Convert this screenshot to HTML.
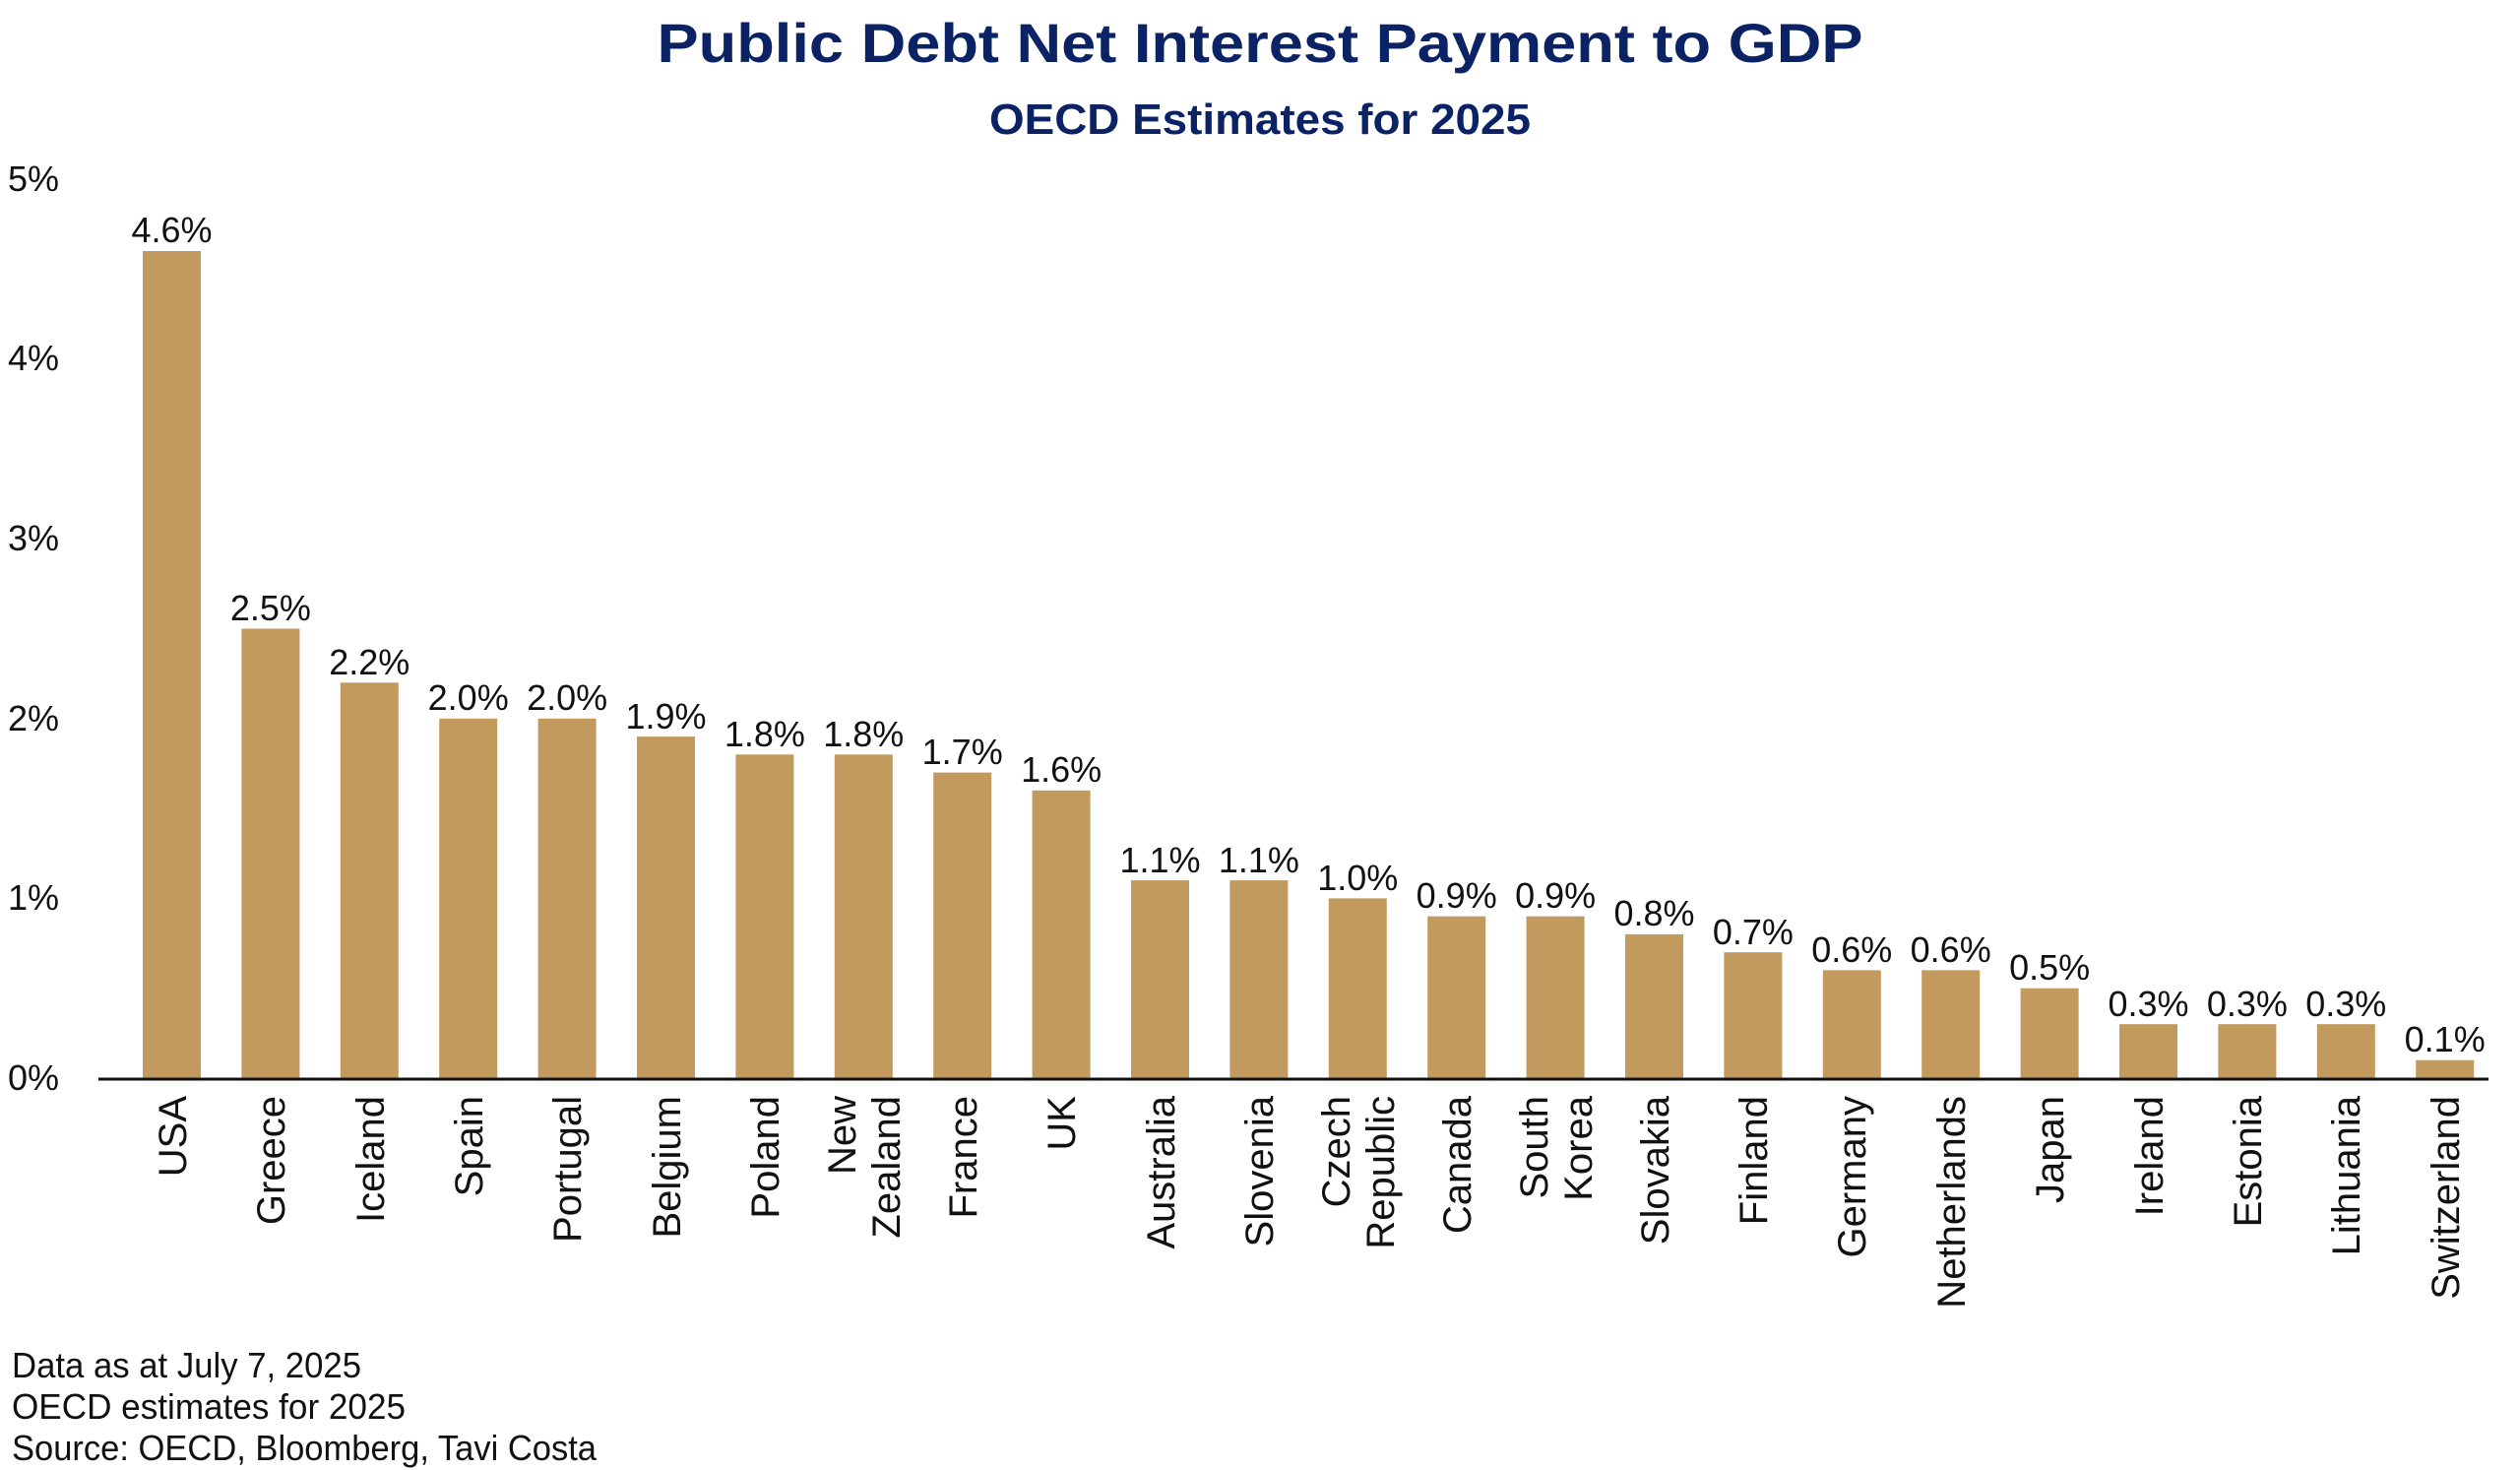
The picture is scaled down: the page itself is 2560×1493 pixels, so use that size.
<!DOCTYPE html>
<html><head><meta charset="utf-8"><style>
html,body{margin:0;padding:0;background:#fff;}
svg{display:block;}
</style></head><body>
<svg width="2560" height="1493" viewBox="0 0 2560 1493" xmlns="http://www.w3.org/2000/svg" font-family="'Liberation Sans', sans-serif">
<rect width="2560" height="1493" fill="#fff"/>
<text x="1280" y="63" text-anchor="middle" font-size="56" font-weight="bold" fill="#0b2265" textLength="1225" lengthAdjust="spacingAndGlyphs">Public Debt Net Interest Payment to GDP</text>
<text x="1280" y="136" text-anchor="middle" font-size="44" font-weight="bold" fill="#0b2265" textLength="550" lengthAdjust="spacingAndGlyphs">OECD Estimates for 2025</text>
<g font-size="36" fill="#111">
<text x="8" y="194">5%</text>
<text x="8" y="376">4%</text>
<text x="8" y="559">3%</text>
<text x="8" y="742">2%</text>
<text x="8" y="924">1%</text>
<text x="8" y="1107">0%</text>
</g>
<g fill="#c29a5e">
<rect x="145" y="255" width="59" height="840"/>
<rect x="245.4" y="638.5" width="59" height="456.5"/>
<rect x="345.8" y="693.3" width="59" height="401.7"/>
<rect x="446.2" y="729.8" width="59" height="365.2"/>
<rect x="546.6" y="729.8" width="59" height="365.2"/>
<rect x="647" y="748.1" width="59" height="346.9"/>
<rect x="747.4" y="766.3" width="59" height="328.7"/>
<rect x="847.8" y="766.3" width="59" height="328.7"/>
<rect x="948.2" y="784.6" width="59" height="310.4"/>
<rect x="1048.6" y="802.8" width="59" height="292.2"/>
<rect x="1149" y="894.1" width="59" height="200.9"/>
<rect x="1249.4" y="894.1" width="59" height="200.9"/>
<rect x="1349.8" y="912.4" width="59" height="182.6"/>
<rect x="1450.2" y="930.7" width="59" height="164.3"/>
<rect x="1550.6" y="930.7" width="59" height="164.3"/>
<rect x="1651" y="948.9" width="59" height="146.1"/>
<rect x="1751.4" y="967.2" width="59" height="127.8"/>
<rect x="1851.8" y="985.4" width="59" height="109.6"/>
<rect x="1952.2" y="985.4" width="59" height="109.6"/>
<rect x="2052.6" y="1003.7" width="59" height="91.3"/>
<rect x="2153" y="1040.2" width="59" height="54.8"/>
<rect x="2253.4" y="1040.2" width="59" height="54.8"/>
<rect x="2353.8" y="1040.2" width="59" height="54.8"/>
<rect x="2454.2" y="1076.7" width="59" height="18.3"/>
</g>
<line x1="100" y1="1096" x2="2528" y2="1096" stroke="#111" stroke-width="3"/>
<g font-size="36" fill="#111" text-anchor="middle">
<text x="174.5" y="246">4.6%</text>
<text x="274.9" y="630">2.5%</text>
<text x="375.3" y="685">2.2%</text>
<text x="475.7" y="721">2.0%</text>
<text x="576.1" y="721">2.0%</text>
<text x="676.5" y="740">1.9%</text>
<text x="776.9" y="758">1.8%</text>
<text x="877.3" y="758">1.8%</text>
<text x="977.7" y="776">1.7%</text>
<text x="1078.1" y="794">1.6%</text>
<text x="1178.5" y="886">1.1%</text>
<text x="1278.9" y="886">1.1%</text>
<text x="1379.3" y="904">1.0%</text>
<text x="1479.7" y="922">0.9%</text>
<text x="1580.1" y="922">0.9%</text>
<text x="1680.5" y="940">0.8%</text>
<text x="1780.9" y="959">0.7%</text>
<text x="1881.3" y="977">0.6%</text>
<text x="1981.7" y="977">0.6%</text>
<text x="2082.1" y="995">0.5%</text>
<text x="2182.5" y="1032">0.3%</text>
<text x="2282.9" y="1032">0.3%</text>
<text x="2383.3" y="1032">0.3%</text>
<text x="2483.7" y="1068">0.1%</text>
</g>
<g font-size="40" fill="#111" text-anchor="end">
<text transform="translate(189,1113) rotate(-90)">USA</text>
<text transform="translate(289,1113) rotate(-90)">Greece</text>
<text transform="translate(390,1113) rotate(-90)">Iceland</text>
<text transform="translate(490,1113) rotate(-90)">Spain</text>
<text transform="translate(590,1113) rotate(-90)">Portugal</text>
<text transform="translate(691,1113) rotate(-90)">Belgium</text>
<text transform="translate(791,1113) rotate(-90)">Poland</text>
<text transform="translate(869,1113) rotate(-90)">New</text>
<text transform="translate(914,1113) rotate(-90)">Zealand</text>
<text transform="translate(992,1113) rotate(-90)">France</text>
<text transform="translate(1092,1113) rotate(-90)">UK</text>
<text transform="translate(1193,1113) rotate(-90)">Australia</text>
<text transform="translate(1293,1113) rotate(-90)">Slovenia</text>
<text transform="translate(1371,1113) rotate(-90)">Czech</text>
<text transform="translate(1416,1113) rotate(-90)">Republic</text>
<text transform="translate(1494,1113) rotate(-90)">Canada</text>
<text transform="translate(1572,1113) rotate(-90)">South</text>
<text transform="translate(1617,1113) rotate(-90)">Korea</text>
<text transform="translate(1695,1113) rotate(-90)">Slovakia</text>
<text transform="translate(1795,1113) rotate(-90)">Finland</text>
<text transform="translate(1895,1113) rotate(-90)">Germany</text>
<text transform="translate(1996,1113) rotate(-90)">Netherlands</text>
<text transform="translate(2096,1113) rotate(-90)">Japan</text>
<text transform="translate(2197,1113) rotate(-90)">Ireland</text>
<text transform="translate(2297,1113) rotate(-90)">Estonia</text>
<text transform="translate(2397,1113) rotate(-90)">Lithuania</text>
<text transform="translate(2498,1113) rotate(-90)">Switzerland</text>
</g>
<g font-size="36" fill="#111">
<text x="12" y="1399" textLength="355" lengthAdjust="spacingAndGlyphs">Data as at July 7, 2025</text>
<text x="12" y="1441" textLength="400" lengthAdjust="spacingAndGlyphs">OECD estimates for 2025</text>
<text x="12" y="1483" textLength="594" lengthAdjust="spacingAndGlyphs">Source: OECD, Bloomberg, Tavi Costa</text>
</g>
</svg>
</body></html>
